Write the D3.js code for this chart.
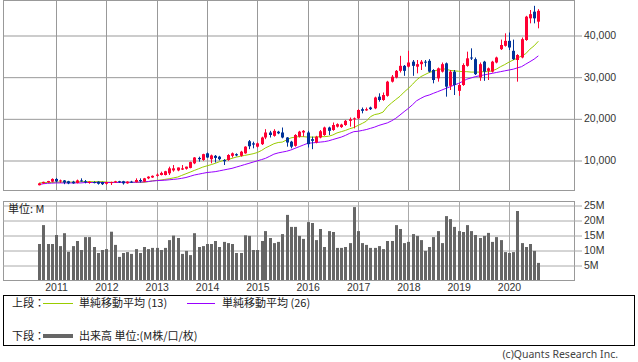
<!DOCTYPE html>
<html>
<head>
<meta charset="utf-8">
<script src="https://cdn.jsdelivr.net/npm/d3@7"></script>
<style>
  body { margin: 0; background: #fff; }
  svg { display: block; font-family: "DejaVu Sans", sans-serif; }
</style>
</head>
<body>
<div id="app"></div>
<script>
// monthly candles, Sep 2010 .. Aug 2020
const months = d3.timeMonth.range(new Date(2010, 8, 1), new Date(2020, 8, 1));

const opens = [3950,4400,4650,4800,5450,4850,5100,4900,4800,4500,5100,4900,4500,4700,4800,4700,4300,4500,4600,4900,
  4900,4400,4800,4700,5200,4800,5600,5800,6200,6400,6400,6800,7500,7500,7700,7900,8100,9200,10500,10000,
  11600,10200,11000,10800,10000,10000,11000,11400,11000,11600,14500,14000,13200,13800,15400,16600,15800,16800,16600,15400,
  14400,13400,15600,16600,16600,15000,14200,15400,16000,17800,17200,18000,17900,18400,19400,19800,20000,22200,21900,22600,
  22400,25200,24400,25400,28800,29800,31400,32600,32400,33600,32400,33000,33600,33800,31600,29600,31200,33200,27800,31200,
  26600,28000,32600,34600,34200,29800,33600,31400,31200,33400,36600,37400,38600,36200,34000,34600,38800,44000,45600,43200];
const highs = [4500,4800,5000,5600,5700,5300,5200,5000,5000,5300,5600,5200,4900,4900,4900,4800,4800,4800,5000,5000,
  5000,4900,5000,5600,5600,5700,6100,6300,6800,7200,7400,8400,8800,8200,8800,8400,9600,10700,10800,11500,
  11800,11300,11200,11000,10200,11400,11800,11600,12200,13300,14800,14400,14200,15600,17400,17000,17400,17000,17800,15500,
  14600,16200,17000,17200,17000,15600,15800,17200,18000,18000,19000,18800,18700,19600,20200,20200,22200,22600,22600,22800,
  25200,26000,26200,29000,30400,31600,35000,32800,36200,34000,34000,34000,34000,34200,31800,32200,33400,33400,31600,31600,
  28400,33200,36000,36800,34600,33400,33800,32200,33800,34800,38900,40400,40600,38900,35400,39400,44600,46000,47000,46200];
const lows = [3900,4300,4550,4700,4650,4500,4200,4200,4300,4400,4800,4400,4300,4400,4100,4000,4100,4000,4500,4500,
  4100,4300,4500,4600,4600,4700,5400,5700,6000,6300,6300,6400,7200,7300,7600,7700,8000,9000,9600,9800,
  10500,9200,9400,9900,8800,9800,10600,10900,10800,11500,12600,12800,13000,13600,15000,15400,15600,16200,15200,13200,
  12800,13200,15400,15600,13000,12600,14000,15200,15800,16000,17000,17800,17700,18200,18000,17600,19800,21200,21800,22000,
  22200,24000,24200,25200,28600,29600,31000,30200,32200,30200,30800,31600,32400,31000,28400,28800,31000,25200,26800,25600,
  25400,27800,32400,34000,30400,29000,29000,29200,31000,33200,36400,37200,36400,34000,28800,34400,38600,42800,42800,41600];
const closes = [4400,4750,4950,5450,4850,5100,4600,4400,4400,5100,4900,4700,4800,4600,4300,4200,4700,4700,4900,4700,
  4400,4800,4700,5200,4900,5600,6000,6200,6500,6900,7300,8000,8000,8200,8000,8400,9500,10600,10200,11400,
  10600,11100,10500,10200,9700,11200,11600,11100,12000,13200,13300,13700,14000,15400,16600,16000,17000,16400,15400,14200,
  13200,16000,16800,17000,13800,14600,15600,16900,17800,17000,18400,18600,18500,19400,19800,20000,22000,21800,22200,22200,
  25000,24400,25600,28800,30000,31400,32600,31400,33400,32600,33000,33600,33400,31200,29200,32000,33000,27600,31200,28000,
  28000,32800,34400,34400,30600,33000,31200,32000,33600,34600,37600,38600,37000,34200,35200,39000,44400,45000,44000,45800];

// moving averages (13 and 26 months)
const ma13 = [4500,4550,4600,4600,4700,4700,4700,4700,4700,4700,4800,4800,4800,4800,4800,4800,4700,4650,4650,4650,
  4650,4650,4650,4650,4650,4650,4800,5000,5100,5200,5350,5500,5700,5900,6300,6700,7100,7500,7900,8300,
  8600,8900,9200,9600,9900,10100,10400,10700,10900,11100,11300,11500,11800,12300,12900,13400,13900,14200,14300,14800,
  15300,15500,15600,15600,15500,15500,15500,15600,15600,15700,16000,16500,16800,17100,17500,17800,18300,18800,19300,20400,
  20900,21100,21500,22800,23700,24500,25300,26300,27200,28200,29200,30000,30500,31000,31300,31600,31900,31800,31500,31400,
  31300,31200,31200,31100,31100,31100,31200,31200,31400,31800,32400,32900,33500,34000,34400,35000,35500,36600,37400,38500];
const ma26 = [4100,4300,4400,4450,4500,4500,4500,4500,4500,4500,4500,4600,4600,4600,4600,4600,4600,4600,4600,4600,
  4650,4650,4650,4650,4700,4750,4850,4950,5050,5100,5150,5250,5350,5450,5600,5800,6100,6400,6600,6800,
  7000,7100,7200,7400,7600,7800,8000,8300,8600,8900,9200,9500,9800,10100,10400,10900,11400,11700,11900,12100,
  12400,12800,13200,13600,14000,14100,14200,14300,14400,14600,14900,15200,15500,15900,16400,16800,16900,17100,17300,17600,
  17900,18300,18600,18900,19400,20000,20800,21600,22400,23300,24200,24800,25300,25600,26000,26400,26800,27200,27600,28000,
  28400,28900,29400,29700,30000,30200,30400,30600,30800,31000,31200,31400,31600,31800,32100,32400,33000,33600,34200,35000];

// volume, millions
const volumes = [12.0,18.3,12.0,12.0,15.0,11.3,15.6,9.4,11.3,13.0,10.0,14.3,14.3,11.0,9.0,10.0,10.3,16.1,11.7,7.7,
  9.0,9.3,8.7,10.3,9.0,11.0,10.3,10.7,10.7,10.0,10.7,13.3,14.8,14.0,8.7,9.7,8.3,15.6,11.0,11.3,
  12.0,12.0,13.0,11.0,12.7,12.3,12.0,9.0,9.0,14.9,14.7,10.0,10.0,13.0,16.3,14.0,12.3,12.7,15.3,21.7,
  17.7,17.7,14.7,13.7,19.3,19.0,13.3,17.0,11.0,16.3,16.0,10.7,10.7,11.0,12.3,24.3,16.3,12.3,11.7,10.7,
  10.7,11.3,10.3,13.0,13.0,18.3,17.0,12.3,12.7,15.3,14.7,13.3,9.7,11.0,14.3,16.3,12.3,21.3,20.3,17.7,
  16.3,16.0,18.3,16.3,15.0,14.0,14.7,15.7,12.7,14.3,13.3,9.3,9.0,9.3,23.0,12.3,11.0,12.0,9.7,5.7];

const priceTicks = [10000, 20000, 30000, 40000];
const volumeTicks = [5, 10, 15, 20, 25];
const years = [2011, 2012, 2013, 2014, 2015, 2016, 2017, 2018, 2019, 2020];

const width = 638, height = 362;
const left = 3, right = 574;
const priceTop = 0, priceBottom = 190;
const volTop = 201, volBottom = 280;

const upColor = '#ff0033', downColor = '#003399';
const gridColor = '#999';

const svg = d3.select('#app').append('svg')
  .attr('width', width)
  .attr('height', height);

const x = d3.scaleTime()
  .domain([new Date(2011, 0, 1), new Date(2020, 0, 1)])
  .range([56, 509]);
const y = d3.scaleLinear().domain([2800, 48400]).range([priceBottom, priceTop]);
const yv = d3.scaleLinear().domain([0, 80 / 3]).range([volBottom, volBottom - 80]);

const yearDates = years.map(yr => new Date(yr, 0, 1));
const px = v => Math.round(v) + 0.5;

// ---- price panel
svg.append('rect')
  .attr('x', left + 0.5).attr('y', priceTop + 0.5)
  .attr('width', right - left).attr('height', priceBottom - priceTop)
  .attr('fill', '#fff').attr('stroke', gridColor);

const priceAxis = svg.append('g')
  .attr('transform', `translate(582,0)`)
  .call(d3.axisRight(y).tickValues(priceTicks).tickSize(-(582 - left)).tickPadding(2)
    .tickFormat(d3.format(',')));
priceAxis.select('.domain').remove();
priceAxis.selectAll('line').attr('stroke', gridColor).attr('transform', 'translate(0,0.5)');
priceAxis.selectAll('text').attr('fill', '#333').style('font-size', '10.5px');

svg.append('g').selectAll('line')
  .data(yearDates).join('line')
  .attr('x1', d => px(x(d))).attr('x2', d => px(x(d)))
  .attr('y1', priceTop).attr('y2', priceBottom)
  .attr('stroke', gridColor);

// MA lines
const maLine = vals => d3.line()
  .x((d, i) => x(months[i]))
  .y(d => y(d))(vals);

svg.append('path').attr('d', maLine(ma13))
  .attr('fill', 'none').attr('stroke', '#99cc00').attr('stroke-width', 1);
svg.append('path').attr('d', maLine(ma26))
  .attr('fill', 'none').attr('stroke', '#9900ff').attr('stroke-width', 1);

// candles
const candles = svg.append('g').selectAll('g')
  .data(months).join('g');

candles.append('line')
  .attr('x1', (d, i) => px(x(d))).attr('x2', (d, i) => px(x(d)))
  .attr('y1', (d, i) => y(highs[i])).attr('y2', (d, i) => y(lows[i]))
  .attr('stroke', (d, i) => closes[i] >= opens[i] ? upColor : downColor);

candles.append('rect')
  .attr('x', d => Math.round(x(d)) - 1)
  .attr('width', 3)
  .attr('y', (d, i) => y(Math.max(opens[i], closes[i])))
  .attr('height', (d, i) => Math.max(1, Math.abs(y(opens[i]) - y(closes[i]))))
  .attr('fill', (d, i) => closes[i] >= opens[i] ? upColor : downColor);

// ---- volume panel
svg.append('rect')
  .attr('x', left + 0.5).attr('y', volTop + 0.5)
  .attr('width', right - left).attr('height', volBottom - volTop)
  .attr('fill', '#fff').attr('stroke', gridColor);

const volAxis = svg.append('g')
  .attr('transform', `translate(582,0)`)
  .call(d3.axisRight(yv).tickValues(volumeTicks).tickSize(-(582 - left)).tickPadding(2)
    .tickFormat(d => d + 'M'));
volAxis.select('.domain').remove();
volAxis.selectAll('line').attr('stroke', '#aaa').attr('transform', 'translate(0,0.5)');
volAxis.selectAll('text').attr('fill', '#333').style('font-size', '10.5px');

svg.append('g').selectAll('line')
  .data(yearDates).join('line')
  .attr('x1', d => px(x(d))).attr('x2', d => px(x(d)))
  .attr('y1', volTop).attr('y2', volBottom)
  .attr('stroke', '#aaa');

svg.append('g').selectAll('rect')
  .data(months).join('rect')
  .attr('x', d => Math.round(x(d)) - 1)
  .attr('width', 3)
  .attr('y', (d, i) => yv(volumes[i]))
  .attr('height', (d, i) => yv(0) - yv(volumes[i]))
  .attr('fill', '#666');

svg.append('text')
  .attr('x', 8).attr('y', 213)
  .attr('fill', '#222')
  .style('font-family', '"Noto Sans CJK JP", sans-serif')
  .style('font-size', '11px')
  .text('単位: M');

// year labels
const yearAxis = svg.append('g')
  .attr('transform', `translate(0,${volBottom})`)
  .call(d3.axisBottom(x).tickValues(yearDates).tickSize(0).tickPadding(4)
    .tickFormat(d3.timeFormat('%Y')));
yearAxis.select('.domain').remove();
yearAxis.selectAll('text').attr('fill', '#333').style('font-size', '10.5px');

// ---- legend
const legend = svg.append('g').style('font-family', '"Noto Sans CJK JP", sans-serif').style('font-size', '11px');
legend.append('rect')
  .attr('x', 3.5).attr('y', 295.5).attr('width', 631).attr('height', 50)
  .attr('fill', 'none').attr('stroke', '#000');

legend.append('text').attr('x', 12).attr('y', 307).attr('fill', '#222').text('上段：');
legend.append('line').attr('x1', 43).attr('x2', 73).attr('y1', 303.5).attr('y2', 303.5).attr('stroke', '#99cc00');
legend.append('text').attr('x', 79).attr('y', 307).attr('fill', '#222').text('単純移動平均 (13)');
legend.append('line').attr('x1', 187).attr('x2', 215).attr('y1', 303.5).attr('y2', 303.5).attr('stroke', '#9900ff');
legend.append('text').attr('x', 222).attr('y', 307).attr('fill', '#222').text('単純移動平均 (26)');

legend.append('text').attr('x', 12).attr('y', 340).attr('fill', '#222').text('下段：');
legend.append('line').attr('x1', 43).attr('x2', 73).attr('y1', 336).attr('y2', 336).attr('stroke', '#666').attr('stroke-width', 4);
legend.append('text').attr('x', 79).attr('y', 340).attr('fill', '#222').text('出来高 単位:(M株/口/枚)');

svg.append('text')
  .attr('x', 618).attr('y', 358)
  .attr('text-anchor', 'end')
  .attr('fill', '#444')
  .style('font-family', '"Noto Sans", sans-serif')
  .style('font-size', '10.5px')
  .text('(c)Quants Research Inc.');
</script>
</body>
</html>
